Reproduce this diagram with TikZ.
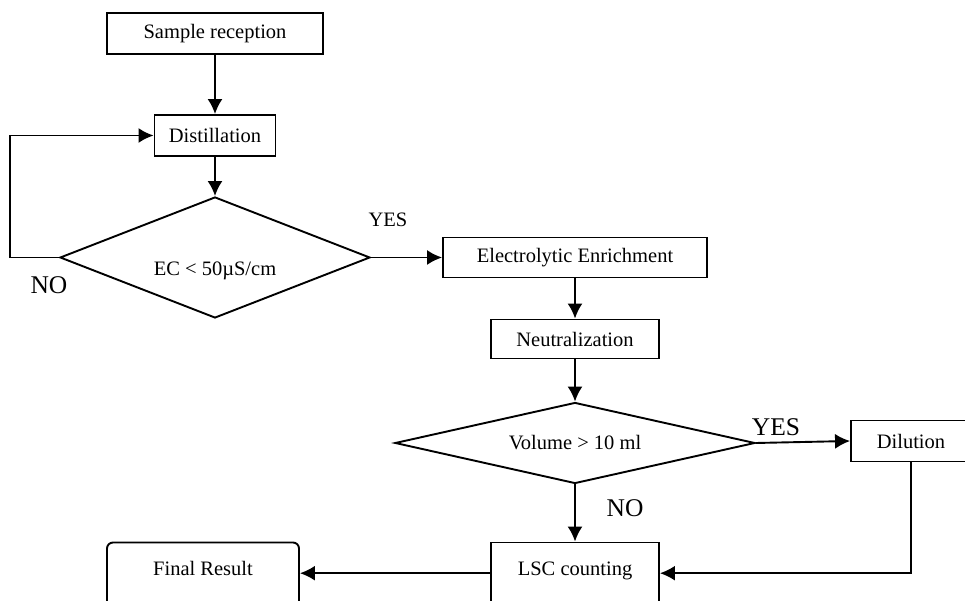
\documentclass[tikz,border=0pt]{standalone}
\usepackage{fontspec}
\setmainfont{Liberation Serif}
\usepackage{tikz}
\usetikzlibrary{arrows.meta,shapes.geometric,positioning}

\begin{document}
\begin{tikzpicture}[>={Latex[length=15pt,width=15pt]}, x=1pt, y=1pt,
  every node/.style={font=\fontsize{20.5}{24}\selectfont},
  box/.style={draw, line width=1.9pt, inner sep=0pt},
  decision/.style={draw, diamond, line width=1.9pt, inner sep=0pt},
  cutbox/.style={box, minimum height=80pt, text height=14pt, text depth=28pt},
  answer/.style={font=\fontsize{25.5}{30}\selectfont},
  flow/.style={->, line width=1.9pt}]
  \useasboundingbox (0,0) rectangle (965,601);
  \clip (0,0) rectangle (965,601);

  \node [box, minimum width=216pt, minimum height=41pt] (samp) at (215,567.5) {Sample reception};
  \node [box, minimum width=121pt, minimum height=41pt, below of=samp, node distance=102pt] (dist) {Distillation};
  \node [decision, aspect=2.56, minimum width=310pt, minimum height=121pt, text height=36pt, text depth=0pt,
         below of=dist, node distance=122pt] (ec) {EC < 50µS/cm};
  \node [box, minimum width=264pt, minimum height=40pt, right of=ec, node distance=360pt] (ee) {Electrolytic Enrichment};
  \node [box, minimum width=168pt, minimum height=39pt, below of=ee, node distance=81.5pt] (neut) {Neutralization};
  \node [decision, aspect=4.4, minimum width=360pt, minimum height=81pt, below of=neut, node distance=104pt] (vol) {Volume > 10 ml};
  \node [box, minimum width=120pt, minimum height=41pt, right of=vol, node distance=336pt, yshift=2pt] (dil) {Dilution};
  \node [cutbox, minimum width=168pt, below of=vol, node distance=139.5pt] (lsc) {LSC counting};
  \node [cutbox, rounded corners=6pt, minimum width=192pt, left of=lsc, node distance=372pt] (final) {Final Result};

  \draw [flow] (samp) -- (dist);
  \draw [flow] (dist) -- (ec);
  \draw [flow] (ec.west) -- ++(-49,0) |- (dist.west);
  \draw [flow] (ec.east) -- (ee.west);
  \draw [flow] (ee) -- (neut);
  \draw [flow] (neut) -- (vol);
  \draw [flow] (vol.east) -- (dil.west);
  \draw [flow] (vol.south) -- (lsc.north);
  \draw [flow] (dil.south) |- (lsc.mid east);
  \draw [flow] (lsc.mid west) -- (final.mid east);

  \node [answer] (no1) at (49,316) {NO};
  \node (yes1) at (388,381) {YES};
  \node [answer] (yes2) at (776,174) {YES};
  \node [answer] (no2) at (625,93) {NO};
\end{tikzpicture}
\end{document}
